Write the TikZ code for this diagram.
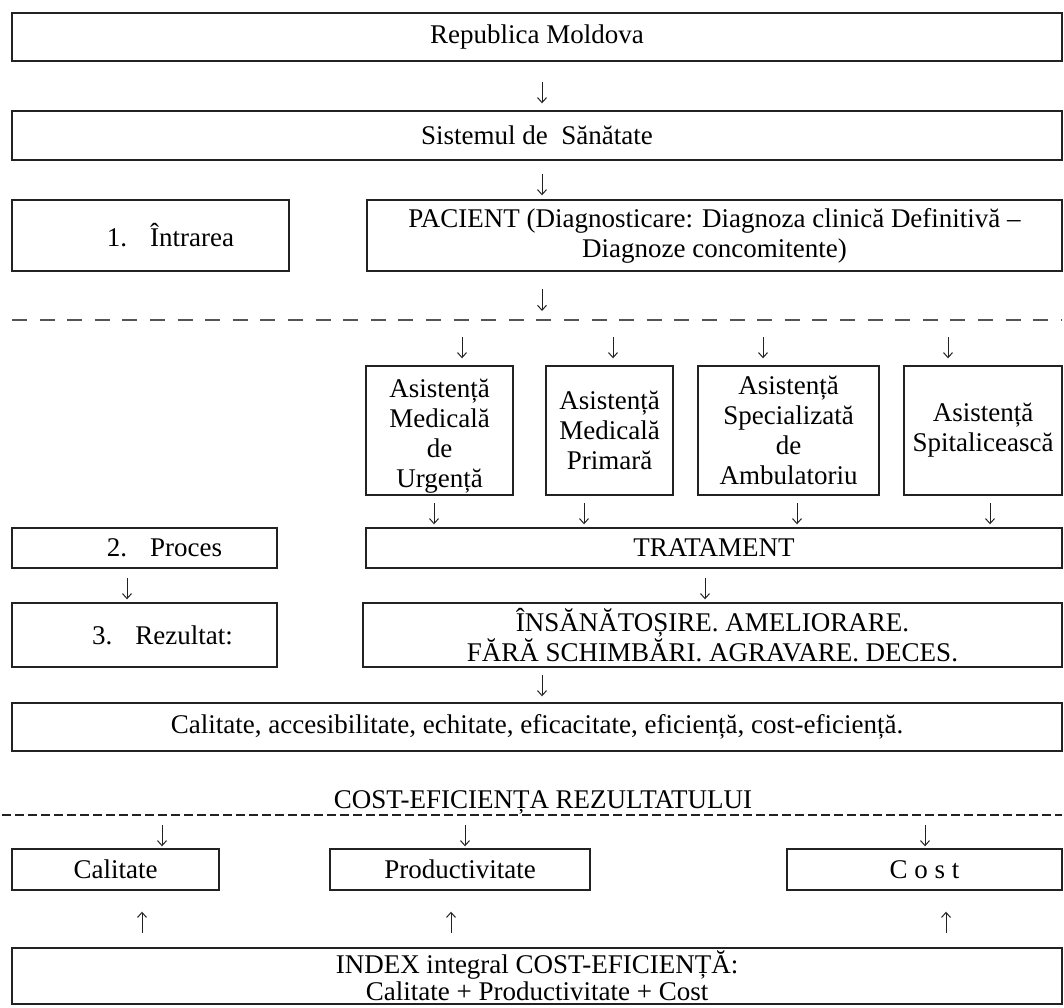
\documentclass[tikz,border=0pt]{standalone}
\usepackage{fontspec}
\setmainfont{Liberation Serif}
\usetikzlibrary{arrows.meta}
\definecolor{boxline}{HTML}{222222}
\definecolor{cutline}{HTML}{555555}
\tikzset{
    box/.style={
    rectangle,draw=boxline,line width=1.4pt,inner sep=0pt,align=center
    },
    arr/.style={
    color=boxline,line width=1pt,-{Straight Barb[length=5pt,width=9pt]}
    },
    cut/.style={
    draw=cutline,line width=1.2pt,dash pattern=on 15pt off 12.6pt
    },
    dcut/.style={
    draw=boxline,line width=1.3pt,dash pattern=on 9pt off 4pt
    },
}

\begin{document}
\begin{tikzpicture}[x=1pt,y=-1pt,every node/.style={font=\fontsize{27}{30}\selectfont}]
   \useasboundingbox (0,0) rectangle (1064,1007);

   % upper part
   \node[box,minimum width=1050,minimum height=48] (rep) at (537,37) {Republica Moldova};
   \node[box,minimum width=1050,minimum height=49] (sis) at (537,135.5) {Sistemul de~ Sănătate};
   \node[box,minimum width=277,minimum height=71] (intr) at (150.5,235.5) {\hspace*{40pt}1.\hspace{0.85em}Întrarea};
   \node[box,minimum width=695,minimum height=71] (pac) at (714.5,235.5) {PACIENT (Diagnosticare: Diagnoza clinică Definitivă –\\Diagnoze concomitente)};

   \coordinate (cutA) at (12,320);
   \coordinate (cutB) at (1062,320);
   \draw[cut] (cutA) -- (cutB);

   % types of care
   \node[box,minimum width=147,minimum height=129] (urg) at (439.5,430.5) {\rule{0pt}{30pt}Asistență\\Medicală\\de\\Urgență};
   \node[box,minimum width=127,minimum height=129] (prim) at (609.5,430.5) {Asistență\\Medicală\\Primară};
   \node[box,minimum width=181,minimum height=129] (spec) at (788.5,430.5) {Asistență\\Specializată\\de\\Ambulatoriu};
   \node[box,minimum width=158,minimum height=129] (spit) at (983,430.5) {Asistență\\Spitalicească};

   \node[box,minimum width=265,minimum height=40] (proc) at (144.5,548) {\hspace*{40pt}2.\hspace{0.85em}Proces};
   \node[box,minimum width=696,minimum height=40] (trat) at (714,548) {TRATAMENT};
   \node[box,minimum width=265,minimum height=64] (rez) at (144.5,635) {\hspace*{36pt}3.\hspace{0.85em}Rezultat:};
   \node[box,minimum width=699,minimum height=64] (ins) at (712.5,635) {ÎNSĂNĂTOȘIRE. AMELIORARE.\\FĂRĂ SCHIMBĂRI. AGRAVARE. DECES.};
   \node[box,minimum width=1050,minimum height=48] (cal) at (537,727) {Calitate, accesibilitate, echitate, eficacitate, eficiență, cost-eficiență.};

   % lower part
   \node[anchor=base] (ceTitle) at (543,808) {COST-EFICIENȚA REZULTATULUI};
   \coordinate (cutC) at (2,815);
   \coordinate (cutD) at (1062,815);
   \draw[dcut] (cutC) -- (cutD);

   \node[box,minimum width=207,minimum height=41] (calit) at (115.5,869.5) {Calitate};
   \node[box,minimum width=260,minimum height=41] (prod) at (460,869.5) {Productivitate};
   \node[box,minimum width=275,minimum height=41] (cost) at (924.5,869.5) {C o s t};
   \node[box,minimum width=1050,minimum height=56,font=\fontsize{27}{27}\selectfont] (index) at (537,976) {INDEX integral COST-EFICIENȚĂ:\\Calitate + Productivitate + Cost};

   % arrow tails
   \coordinate (d1) at (542,82);
   \coordinate (d2) at (542,174);
   \coordinate (d3) at (542,289);
   \coordinate (t1) at (462,337);
   \coordinate (t2) at (613,337);
   \coordinate (t3) at (763,337);
   \coordinate (t4) at (948,337);
   \coordinate (b1) at (434,503);
   \coordinate (b2) at (584,503);
   \coordinate (b3) at (797,503);
   \coordinate (b4) at (990,503);
   \coordinate (p1) at (127,578);
   \coordinate (p2) at (705,578);
   \coordinate (r1) at (542,675);
   \coordinate (c1) at (162,825);
   \coordinate (c2) at (465,825);
   \coordinate (c3) at (925,825);
   \coordinate (u1) at (142,933);
   \coordinate (u2) at (451,933);
   \coordinate (u3) at (946,933);

  \path[arr]
    (d1) edge[shorten >=7pt] (d1 |- sis.north)
    (d2) edge[shorten >=4pt] (d2 |- pac.north)
    (d3) edge[shorten >=9pt] (d3 |- cutA)
    (t1) edge[shorten >=7pt] (t1 |- urg.north)
    (t2) edge[shorten >=7pt] (t2 |- prim.north)
    (t3) edge[shorten >=7pt] (t3 |- spec.north)
    (t4) edge[shorten >=7pt] (t4 |- spit.north)
    (b1) edge[shorten >=3pt] (b1 |- trat.north)
    (b2) edge[shorten >=3pt] (b2 |- trat.north)
    (b3) edge[shorten >=3pt] (b3 |- trat.north)
    (b4) edge[shorten >=3pt] (b4 |- trat.north)
    (p1) edge[shorten >=3pt] (p1 |- rez.north)
    (p2) edge[shorten >=3pt] (p2 |- ins.north)
    (r1) edge[shorten >=6pt] (r1 |- cal.north)
    (c1) edge[shorten >=2pt] (c1 |- calit.north)
    (c2) edge[shorten >=2pt] (c2 |- prod.north)
    (c3) edge[shorten >=2pt] (c3 |- cost.north)
    (u1) edge[shorten >=21pt] (u1 |- calit.south)
    (u2) edge[shorten >=21pt] (u2 |- prod.south)
    (u3) edge[shorten >=21pt] (u3 |- cost.south);
\end{tikzpicture}
\end{document}
